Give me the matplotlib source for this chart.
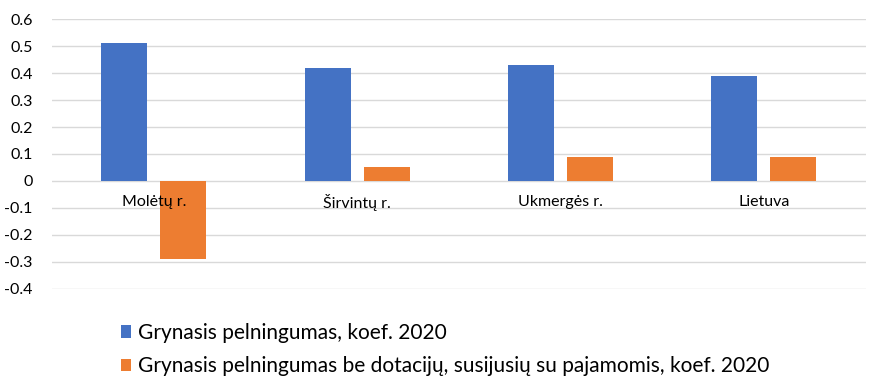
import matplotlib.pyplot as plt
import numpy as np

plt.rcParams['font.family'] = ['Lato', 'DejaVu Sans']

categories = ["Molėtų r.", "Širvintų r.", "Ukmergės r.", "Lietuva"]
grynasis = [0.51, 0.42, 0.43, 0.39]
be_dotaciju = [-0.29, 0.05, 0.09, 0.09]
series_names = ["Grynasis pelningumas, koef. 2020",
                "Grynasis pelningumas be dotacijų, susijusių su pajamomis, koef. 2020"]
yticks = [-0.4, -0.3, -0.2, -0.1, 0, 0.1, 0.2, 0.3, 0.4, 0.5, 0.6]

fig = plt.figure(figsize=(8.86, 3.92), dpi=100)
ax = fig.add_axes([0.0587, 0.2628, 0.9183, 0.6887])

x = np.arange(len(categories))
w = 0.226
off = 0.145
b1 = ax.bar(x - off, grynasis, w, color="#4472C4", label=series_names[0], zorder=3)
b2 = ax.bar(x + off, be_dotaciju, w, color="#ED7D31", label=series_names[1], zorder=3)

ax.set_xlim(-0.5, len(categories) - 0.5)
ax.set_ylim(-0.4, 0.6)
ax.set_yticks(yticks)
ax.set_yticklabels([("%g" % v) for v in yticks], fontsize=11.5, color="#000000")
ax.set_xticks([])
ax.tick_params(axis='y', length=0, pad=14)
ax.grid(axis='y', color="#D9D9D9", linewidth=1, zorder=0)
for s in ax.spines.values():
    s.set_visible(False)

# category labels sit just under the zero line
for i, c in enumerate(categories):
    ax.text(i, -0.078, c, ha='center', va='center', fontsize=11.5, color="#000000", zorder=4)

fig.legend(handles=[b1, b2], loc='upper left', bbox_to_anchor=(0.127, 0.198),
           frameon=False, fontsize=15, handlelength=0.5, handleheight=0.55,
           handletextpad=0.3, labelspacing=0.65, borderaxespad=0)

fig.savefig("out.png", dpi=100)
